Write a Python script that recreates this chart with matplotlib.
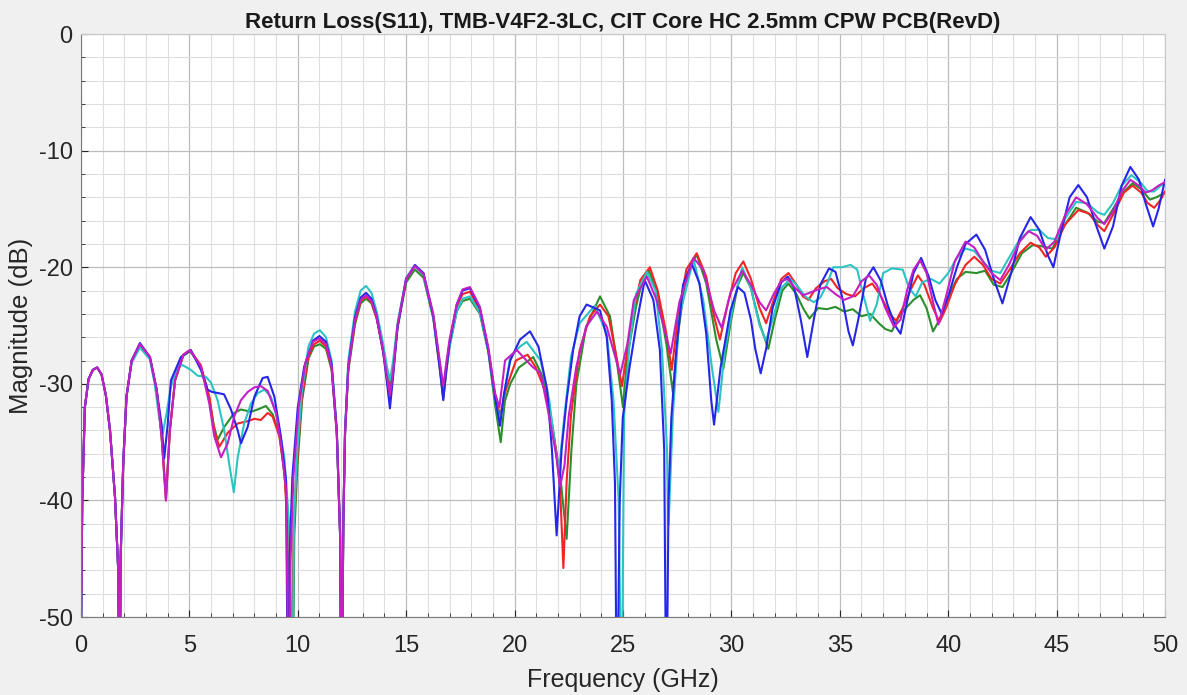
import matplotlib
matplotlib.use('agg')
import matplotlib.pyplot as plt
from matplotlib.ticker import MultipleLocator

# (frequency GHz, magnitude dB), values below -50 are clipped nulls
blue_pts = [
    (0.00, -52), (0.06, -40), (0.18, -32), (0.35, -29.6), (0.55, -28.8), (0.75, -28.6), (0.95, -29.2),
    (1.15, -31), (1.34, -34), (1.57, -39.7), (1.72, -46), (1.78, -60), (1.83, -45), (1.95, -36.8),
    (2.10, -31.1), (2.34, -28), (2.72, -26.5), (3.18, -27.7), (3.49, -30.5), (3.72, -33.5), (3.84, -36.4),
    (4.00, -33.5), (4.15, -29.7), (4.61, -27.7), (5.07, -27.1), (5.53, -28.8), (5.84, -30.5), (6.05, -30.7),
    (6.35, -30.8), (6.60, -30.9), (6.92, -32.2), (7.23, -34), (7.38, -35.1), (7.69, -33.7), (8.00, -31.1),
    (8.38, -29.5), (8.61, -29.4), (8.92, -31.1), (9.22, -34.5), (9.46, -38.3), (9.55, -60),
    (9.62, -45), (9.75, -38), (10.0, -32), (10.3, -28.5), (10.7, -26.3), (11.0, -25.9), (11.3, -26.4),
    (11.56, -28.3), (11.8, -34), (11.95, -42.8), (12.02, -60), (12.1, -42), (12.18, -34.2), (12.33, -28.5),
    (12.64, -24.3), (12.9, -22.6), (13.15, -22.2), (13.4, -22.7), (13.64, -24.2), (13.94, -27.3),
    (14.12, -30), (14.25, -32.1), (14.4, -29.3), (14.6, -25.2), (15.0, -21), (15.4, -19.8), (15.8, -20.5),
    (16.25, -24.2), (16.56, -28.8), (16.71, -31.4), (16.85, -28.8), (17.0, -26.5), (17.33, -23.2),
    (17.6, -22), (17.94, -21.8), (18.4, -23.5), (18.79, -27.1), (19.1, -31.2), (19.33, -33.6),
    (19.5, -31), (19.8, -28), (20.25, -26.2), (20.71, -25.5), (21.1, -26.8), (21.5, -30.5), (21.72, -35.6),
    (21.94, -43), (22.17, -35.6), (22.4, -31.4), (22.7, -27.1), (23.0, -24.2), (23.32, -23.2),
    (23.94, -23.7), (24.25, -26), (24.48, -31.4), (24.63, -38.5), (24.72, -60), (24.85, -40),
    (24.99, -32.9), (25.3, -28.6), (25.6, -25.1), (26.0, -21.1), (26.4, -22.8), (26.7, -27.1),
    (26.9, -35.6), (27.0, -60), (27.1, -40), (27.23, -32.9), (27.46, -27.1), (27.77, -21.5),
    (28.17, -19.7), (28.53, -21.4), (28.84, -25.7), (29.07, -31.4), (29.2, -33.5), (29.5, -28.6),
    (29.96, -23.7), (30.3, -21.7), (30.6, -22.2), (30.9, -24.5), (31.1, -27), (31.35, -29.1), (31.6, -27),
    (31.9, -23.5), (32.3, -21.3), (32.6, -20.8), (32.9, -21.8), (33.2, -24.5), (33.5, -27.7), (33.8, -24.5),
    (34.1, -21.5), (34.5, -20.1), (34.8, -20.4), (35.1, -22.5), (35.4, -25.5), (35.6, -26.7),
    (35.85, -24.5), (36.2, -21), (36.55, -20), (36.9, -21.2), (37.2, -23.2), (37.55, -25), (37.8, -25.7),
    (38.1, -23), (38.4, -20.5), (38.75, -19.2), (39.1, -20.8), (39.4, -22.8), (39.7, -24), (40.0, -22.5),
    (40.4, -20), (40.8, -18), (41.3, -17.2), (41.7, -18.5), (42.1, -21), (42.5, -23.1), (42.9, -20.5),
    (43.3, -17.5), (43.8, -15.7), (44.2, -16.8), (44.6, -19), (44.85, -20), (45.2, -17), (45.6, -14),
    (46.0, -12.95), (46.4, -14), (46.8, -16.3), (47.2, -18.4), (47.6, -16.5), (48.0, -13), (48.4, -11.4),
    (48.8, -12.5), (49.1, -14.5), (49.45, -16.5), (49.7, -15), (50.0, -12.5),
]

red_pts = [
    (0.00, -52), (0.06, -40), (0.18, -32), (0.35, -29.6), (0.55, -28.8), (0.75, -28.6), (0.95, -29.2),
    (1.15, -31), (1.34, -34), (1.57, -39.7), (1.72, -46), (1.78, -60), (1.83, -45), (1.95, -36.8),
    (2.10, -31.1), (2.34, -28), (2.72, -26.6), (3.18, -27.7), (3.49, -30.5), (3.72, -34.5), (3.92, -40),
    (4.10, -34), (4.34, -29.7), (4.72, -27.5), (5.03, -27.1), (5.53, -28.4), (5.92, -31.1), (6.15, -34),
    (6.38, -35.4), (6.77, -34.2), (7.23, -33.4), (7.69, -33.2), (8.00, -33), (8.30, -33.1), (8.61, -32.5),
    (8.84, -32.8), (9.15, -34.5), (9.38, -37.4), (9.60, -45), (9.72, -60),
    (9.80, -43), (9.95, -37.1), (10.18, -31.4), (10.49, -27.6), (10.75, -26.6), (11.02, -26.3),
    (11.3, -26.8), (11.56, -28.6), (11.8, -34.2), (11.95, -42.8), (12.02, -60), (12.1, -42), (12.18, -34.2),
    (12.33, -28.7), (12.64, -24.7), (12.9, -22.9), (13.15, -22.5), (13.4, -23), (13.64, -24.4),
    (13.94, -27.3), (14.12, -29.6), (14.25, -31.2), (14.4, -29), (14.6, -25), (15.0, -21), (15.4, -19.9),
    (15.8, -20.6), (16.25, -24.2), (16.56, -28.5), (16.71, -30.8), (16.85, -28.5), (17.0, -26.5),
    (17.33, -23.4), (17.6, -22.3), (17.94, -22.1), (18.4, -23.7), (18.79, -27.1), (19.1, -31),
    (19.33, -32.7), (19.6, -30.5), (20.06, -28), (20.6, -27.5), (20.98, -28.6), (21.45, -30.8),
    (21.91, -35.7), (22.1, -39), (22.25, -45.8), (22.4, -38.4), (22.6, -32.7), (23.0, -27.1),
    (23.48, -24.2), (23.94, -23.2), (24.33, -24.2), (24.64, -27.1), (24.95, -30.2), (25.2, -27.1),
    (25.5, -23.7), (25.8, -21.1), (26.24, -20), (26.6, -22), (27.0, -25.7), (27.25, -28.8), (27.54, -24.2),
    (27.92, -20.2), (28.4, -18.8), (28.84, -20.8), (29.2, -24.2), (29.47, -26.2), (29.85, -23),
    (30.2, -20.5), (30.55, -19.5), (30.9, -21), (31.3, -23.5), (31.6, -24.8), (31.95, -22.8), (32.3, -21),
    (32.63, -20.5), (33.0, -21.5), (33.3, -22.5), (33.55, -22.8), (33.9, -21.8), (34.3, -21.2),
    (34.6, -21), (34.9, -21.8), (35.3, -22.3), (35.7, -22.5), (36.1, -21.8), (36.5, -21.4), (36.9, -22.5),
    (37.3, -24), (37.6, -24.6), (37.9, -23.5), (38.3, -21.8), (38.6, -20.7), (38.9, -21.5), (39.3, -23.5),
    (39.6, -24.7), (39.9, -23.5), (40.3, -21.5), (40.8, -19.8), (41.2, -19.1), (41.6, -19.8), (42.0, -21),
    (42.4, -21.4), (42.8, -20.3), (43.3, -18.8), (43.8, -17.9), (44.2, -18.3), (44.5, -19.1),
    (44.9, -18.3), (45.4, -16.3), (46.0, -15.1), (46.5, -15.4), (46.9, -16.4), (47.2, -16.9),
    (47.6, -15.5), (48.1, -13.6), (48.5, -13), (48.9, -13.6), (49.2, -14.5), (49.5, -14.9), (49.8, -14.2),
    (50.0, -13.5),
]

green_pts = [
    (0.00, -52), (0.06, -40), (0.18, -32), (0.35, -29.6), (0.55, -28.8), (0.75, -28.6), (0.95, -29.2),
    (1.15, -31), (1.34, -34), (1.57, -39.7), (1.72, -46), (1.78, -60), (1.83, -45), (1.95, -36.8),
    (2.10, -31.1), (2.34, -28), (2.72, -26.7), (3.18, -27.8), (3.49, -30.5), (3.72, -34.5), (3.92, -39.5),
    (4.10, -34), (4.34, -29.7), (4.72, -27.6), (5.03, -27.2), (5.53, -28.5), (5.92, -31.2), (6.12, -33.5),
    (6.30, -34.8), (6.61, -33.7), (7.07, -32.5), (7.38, -32.2), (7.84, -32.4), (8.15, -32.2),
    (8.53, -31.9), (8.84, -32.6), (9.15, -34.3), (9.40, -38), (9.62, -44), (9.76, -60),
    (9.84, -43), (9.98, -37.1), (10.2, -31.4), (10.5, -27.8), (10.75, -26.8), (11.02, -26.6),
    (11.3, -27), (11.56, -28.8), (11.8, -34.3), (11.95, -42.8), (12.02, -60), (12.1, -42), (12.18, -34.3),
    (12.33, -28.9), (12.64, -24.9), (12.9, -23.1), (13.15, -22.7), (13.4, -23.1), (13.64, -24.4),
    (13.94, -27), (14.12, -29), (14.25, -30.2), (14.4, -28.5), (14.6, -25.2), (15.0, -21.3),
    (15.4, -20.2), (15.8, -20.9), (16.25, -24.4), (16.56, -28.9), (16.71, -31.3), (16.85, -29),
    (17.0, -26.8), (17.33, -23.8), (17.6, -22.9), (17.94, -22.7), (18.4, -24), (18.79, -27.3),
    (19.1, -31.8), (19.36, -35), (19.55, -31.5), (19.8, -30), (20.2, -28.6), (20.86, -27.7),
    (21.3, -29.4), (21.76, -33.7), (22.14, -38.5), (22.4, -43.3), (22.62, -35.7), (22.85, -30),
    (23.3, -25.1), (23.94, -22.5), (24.4, -24.2), (24.7, -27.9), (25.0, -32), (25.2, -27.7),
    (25.6, -23.4), (25.9, -21.1), (26.2, -20.3), (26.6, -22.3), (27.0, -26.6), (27.3, -30.7),
    (27.54, -25.7), (27.9, -20.8), (28.4, -18.9), (28.84, -21.4), (29.3, -26.2), (29.63, -28.7),
    (29.96, -24.8), (30.3, -21.5), (30.55, -20.5), (30.9, -21.8), (31.3, -24.8), (31.7, -27),
    (32.0, -24.5), (32.35, -22), (32.63, -21.4), (33.0, -22.3), (33.3, -23.5), (33.6, -24.4),
    (34.0, -23.5), (34.4, -23.6), (34.8, -23.4), (35.2, -23.8), (35.6, -23.6), (36.0, -24.2),
    (36.4, -24), (36.8, -24.8), (37.1, -25.3), (37.4, -25.5), (37.7, -24.3), (38.0, -23.6),
    (38.4, -22.8), (38.7, -22.4), (39.0, -23.5), (39.3, -25.5), (39.6, -24.5), (40.0, -22.5),
    (40.4, -21), (40.8, -20.4), (41.3, -20.5), (41.7, -20.3), (42.1, -21.5), (42.5, -21.7), (42.9, -20.5),
    (43.4, -18.8), (43.9, -18.1), (44.3, -18.2), (44.8, -18.4), (45.3, -16.6), (45.9, -14.9),
    (46.4, -15.3), (46.9, -16.1), (47.2, -16.2), (47.6, -15), (48.1, -13.5), (48.5, -12.8),
    (48.9, -13.3), (49.3, -14.2), (49.6, -14), (50.0, -13.6),
]

magenta_pts = [
    (0.00, -52), (0.06, -40), (0.18, -32), (0.35, -29.6), (0.55, -28.8), (0.75, -28.6), (0.95, -29.2),
    (1.15, -31), (1.34, -34), (1.57, -39.7), (1.72, -46), (1.78, -60), (1.83, -45), (1.95, -36.8),
    (2.10, -31.1), (2.34, -28), (2.72, -26.6), (3.18, -27.7), (3.49, -30.5), (3.72, -34.5), (3.92, -40),
    (4.10, -34), (4.34, -29.7), (4.72, -27.5), (5.03, -27.1), (5.53, -28.5), (5.92, -31.7), (6.15, -34.5),
    (6.46, -36.3), (6.77, -35.1), (7.07, -32.8), (7.38, -31.4), (7.69, -30.7), (8.00, -30.3),
    (8.30, -30.2), (8.61, -30.6), (9.00, -32.5), (9.22, -35.1), (9.46, -39.1), (9.60, -60),
    (9.67, -45), (9.8, -38), (10.05, -31.8), (10.35, -28.2), (10.7, -26.4), (11.0, -26.1), (11.3, -26.6),
    (11.56, -28.5), (11.8, -34.2), (11.95, -42.8), (12.02, -60), (12.1, -42), (12.18, -34.2),
    (12.33, -28.6), (12.64, -24.5), (12.9, -22.8), (13.15, -22.4), (13.4, -22.9), (13.64, -24.3),
    (13.94, -27.2), (14.12, -29.5), (14.25, -31), (14.4, -28.9), (14.6, -25), (15.0, -21), (15.4, -19.9),
    (15.8, -20.6), (16.25, -24), (16.56, -28.2), (16.71, -30.2), (16.85, -28.2), (17.0, -26.2),
    (17.33, -23.2), (17.6, -21.9), (17.94, -21.7), (18.4, -23.4), (18.79, -26.9), (19.1, -30.8),
    (19.3, -32), (19.56, -28), (20.1, -27.1), (20.4, -27.7), (20.8, -28.5), (21.2, -29.1), (21.5, -31.9),
    (21.9, -35.9), (22.1, -38.8), (22.3, -37), (22.5, -32.7), (22.85, -28.5), (23.3, -25.1), (23.8, -23.8),
    (24.25, -25.1), (24.87, -29.2), (25.2, -26.6), (25.5, -22.8), (26.1, -20.8), (26.55, -22.8),
    (27.2, -27.4), (27.6, -23), (28.25, -19.2), (28.7, -20.2), (29.2, -23.7), (29.55, -25.2),
    (29.96, -22.2), (30.5, -20.3), (30.9, -21.5), (31.3, -23), (31.6, -23.7), (31.95, -22.3),
    (32.3, -21.2), (32.6, -21), (32.95, -21.8), (33.3, -22.4), (33.6, -22.2), (34.0, -21.9),
    (34.4, -21.7), (34.8, -22.3), (35.2, -22.8), (35.6, -22.5), (36.0, -21.2), (36.35, -20.7),
    (36.7, -21.5), (37.1, -23.5), (37.5, -25.1), (37.8, -24.5), (38.1, -22), (38.4, -20.2),
    (38.7, -19.4), (39.0, -20.5), (39.3, -23), (39.55, -24.9), (39.9, -22.5), (40.3, -19.5),
    (40.8, -17.8), (41.2, -18.3), (41.6, -19.5), (42.0, -20.5), (42.4, -21.1), (42.8, -19.8),
    (43.3, -17.8), (43.7, -16.9), (44.1, -17.3), (44.5, -18.5), (44.9, -17.8), (45.4, -15.5),
    (45.9, -14), (46.4, -14.6), (46.9, -15.8), (47.2, -16.3), (47.6, -15.2), (48.0, -13.5),
    (48.4, -12.5), (48.8, -13), (49.1, -13.6), (49.4, -13.4), (49.7, -13), (50.0, -12.7),
]

cyan_pts = [
    (0.00, -52), (0.06, -40), (0.18, -32), (0.35, -29.6), (0.55, -28.8), (0.75, -28.6), (0.95, -29.2),
    (1.15, -31), (1.34, -34), (1.57, -39.7), (1.72, -46), (1.78, -60), (1.83, -45), (1.95, -36.8),
    (2.10, -31.1), (2.34, -28.2), (2.72, -26.9), (3.18, -27.9), (3.40, -30), (3.60, -32.8), (3.77, -34.3),
    (3.95, -32.5), (4.15, -30.2), (4.46, -28.5), (4.69, -28.4), (5.07, -28.8), (5.38, -29.3),
    (5.76, -29.4), (6.00, -29.9), (6.30, -31.4), (6.61, -34), (6.84, -36.9), (7.05, -39.3), (7.23, -36.3),
    (7.53, -33.4), (7.84, -31.7), (8.15, -30.8), (8.46, -30.5), (8.76, -31.1), (9.07, -33.1),
    (9.38, -36.3), (9.60, -42), (9.75, -60),
    (9.82, -42), (9.95, -36.5), (10.18, -30.8), (10.49, -26.8), (10.75, -25.7), (11.02, -25.4),
    (11.3, -26), (11.56, -28), (11.8, -34), (11.95, -42.8), (12.03, -60), (12.1, -42), (12.18, -34),
    (12.33, -28), (12.64, -23.8), (12.9, -22), (13.15, -21.6), (13.4, -22.2), (13.64, -23.8),
    (13.94, -26.6), (14.12, -28.6), (14.25, -29.7), (14.4, -28), (14.6, -24.8), (15.0, -20.9),
    (15.4, -19.9), (15.8, -20.7), (16.25, -24.3), (16.56, -28.5), (16.71, -30.5), (16.85, -28.6),
    (17.0, -26.8), (17.33, -23.8), (17.6, -22.7), (17.94, -22.5), (18.4, -23.9), (18.79, -27.2),
    (19.1, -31.3), (19.33, -33.2), (19.55, -30.5), (19.8, -27.7), (20.25, -26.8), (20.56, -26.4),
    (21.2, -28), (21.6, -31.4), (21.9, -35.9), (22.05, -37.4), (22.3, -32.7), (22.6, -27.7), (23.0, -24.8),
    (23.7, -23.3), (24.25, -25.7), (24.56, -31.4), (24.8, -40), (24.94, -60), (25.05, -32.7),
    (25.3, -26.6), (25.6, -22.3), (26.1, -20.4), (26.5, -22), (26.8, -27.1), (27.03, -35.7),
    (27.1, -42.1), (27.3, -32.7), (27.6, -24.2), (28.25, -19.3), (28.7, -22.8), (29.1, -28.6),
    (29.4, -32.4), (29.7, -27.1), (30.1, -23), (30.5, -20), (30.9, -21.8), (31.3, -25), (31.6, -26.3),
    (31.9, -24.5), (32.3, -21.8), (32.7, -21), (33.0, -21.5), (33.4, -22.5), (33.8, -23), (34.1, -22.6),
    (34.4, -21.5), (34.7, -20), (35.1, -20), (35.5, -19.8), (35.8, -20.2), (36.1, -22.5), (36.4, -24.6),
    (36.7, -23.2), (37.0, -20.5), (37.4, -20.1), (37.9, -20.2), (38.2, -21.8), (38.5, -22.5),
    (38.8, -21.3), (39.2, -21), (39.6, -21.4), (40.0, -20.5), (40.4, -19.2), (40.8, -18.4),
    (41.2, -18.6), (41.6, -19.5), (42.0, -20.3), (42.4, -20.5), (42.8, -19.2), (43.3, -17.6),
    (43.8, -16.8), (44.2, -16.8), (44.6, -17.5), (45.0, -17.6), (45.4, -15.8), (45.9, -14.4),
    (46.4, -14.5), (46.9, -15.3), (47.2, -15.5), (47.6, -14.5), (48.0, -13), (48.45, -12.1),
    (48.9, -12.8), (49.2, -13.5), (49.5, -13.5), (49.8, -13), (50.0, -12.8),
]

series = [
    (green_pts, '#2a8f2a'),
    (red_pts, '#f22424'),
    (cyan_pts, '#2cc3c3'),
    (blue_pts, '#2626e8'),
    (magenta_pts, '#c41fc4'),
]

plt.rcParams['font.family'] = ['Liberation Sans', 'DejaVu Sans']
plt.rcParams['axes.unicode_minus'] = False

fig = plt.figure(figsize=(11.87, 6.95), dpi=100, facecolor='#f0f0f0')
ax = fig.add_axes([0.0682, 0.1122, 0.9133, 0.8388])
ax.set_facecolor('white')

for pts, color in series:
    f, db = zip(*pts)
    ax.plot(f, db, color=color, lw=1.5)

ax.set_xlim(0, 50)
ax.set_ylim(-50, 0)
ax.xaxis.set_major_locator(MultipleLocator(5))
ax.xaxis.set_minor_locator(MultipleLocator(1))
ax.yaxis.set_major_locator(MultipleLocator(10))
ax.yaxis.set_minor_locator(MultipleLocator(2))
ax.grid(which='major', color='#bdbdbd', lw=0.9)
ax.grid(which='minor', color='#dedede', lw=0.8)
ax.set_axisbelow(True)

ax.tick_params(which='both', direction='in', labelsize=17, colors='#262626')
ax.tick_params(axis='x', pad=13)
ax.tick_params(axis='y', pad=6)
ax.tick_params(which='major', length=5)
ax.tick_params(which='minor', length=3)
for side in ['left', 'bottom']:
    ax.spines[side].set_color('#7a7a7a')
for side in ['top', 'right']:
    ax.spines[side].set_color('#c8c8c8')

ax.set_xlabel('Frequency (GHz)', fontsize=18, color='#262626', labelpad=8)
ax.set_ylabel('Magnitude (dB)', fontsize=18.5, color='#262626', labelpad=4)
ax.set_title('Return Loss(S11), TMB-V4F2-3LC, CIT Core HC 2.5mm CPW PCB(RevD)',
             fontsize=16, fontweight='bold', color='#1a1a1a', pad=4)

fig.savefig('out.png', dpi=100, facecolor=fig.get_facecolor())
